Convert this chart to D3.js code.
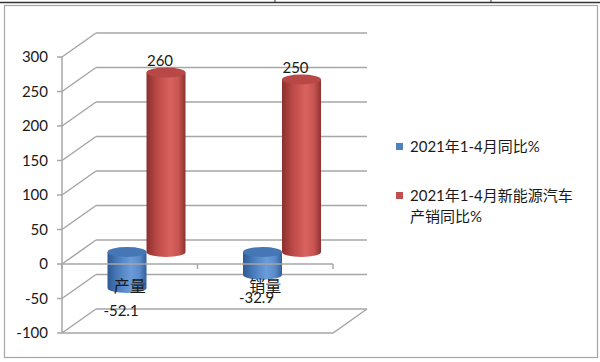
<!DOCTYPE html>
<html lang="zh">
<head>
    <meta charset="UTF-8">
    <script src="https://d3js.org/d3.v7.min.js"></script>
    <title>2021年1-4月同比</title>
    <style>
        body { margin: 0; background: #fff; }
        svg { display: block; }
        text { font-family: Lato, "Noto Sans CJK SC", sans-serif; fill: #1a1a1a; }
    </style>
</head>
<body>
<div id="container"></div>
<script>
    // data
    const categories = ["产量", "销量"]
    const seriesNames = ["2021年1-4月同比%", "2021年1-4月新能源汽车产销同比%"]
    const totalChange = [-52.1, -32.9]      // blue
    const nevChange = [260, 250]            // red
    const yTicks = [-100, -50, 0, 50, 100, 150, 200, 250, 300]
    const legendLines = [["2021年1-4月同比%"], ["2021年1-4月新能源汽车", "产销同比%"]]

    const W = 600, H = 362
    const depth = { dx: 34, dy: -24 }   // 3d offset of the back wall
    const colors = ["#4F81BD", "#C0504D"]

    const svg = d3.select("#container").append("svg")
        .attr("width", W).attr("height", H)

    const defs = svg.append("defs")
    const grads = [
        { id: "blueBody", stops: ["#2f5a93", "#4d7fc0", "#6b9bd8", "#5b8bc9", "#33609b"] },
        { id: "redBody", stops: ["#8c302e", "#bf4c49", "#d8625e", "#c85552", "#8e3230"] }
    ]
    grads.forEach(g => {
        const lg = defs.append("linearGradient").attr("id", g.id)
            .attr("x1", "0%").attr("x2", "100%").attr("y1", "0%").attr("y2", "0%")
        const offs = [0, 0.3, 0.6, 0.82, 1]
        g.stops.forEach((c, i) => lg.append("stop").attr("offset", offs[i]).attr("stop-color", c))
    })

    const y = d3.scaleLinear().domain([-100, 300]).range([333, 57])
    const x = d3.scaleBand().domain(categories).range([62, 333])
    const inner = d3.scaleBand().domain([0, 1]).range([28.5, 106.5])

    const x0 = x.range()[0], x1 = x.range()[1]
    const grid = svg.append("g").attr("stroke", "#a6a6a6").attr("stroke-width", 1.5).attr("fill", "none")

    // side wall diagonals + back wall gridlines
    yTicks.forEach(t => {
        grid.append("line")
            .attr("x1", x0).attr("y1", y(t))
            .attr("x2", x0 + depth.dx).attr("y2", y(t) + depth.dy)
        grid.append("line")
            .attr("x1", x0 + depth.dx).attr("y1", y(t) + depth.dy)
            .attr("x2", x1 + depth.dx).attr("y2", y(t) + depth.dy)
    })
    // floor
    grid.append("path")
        .attr("d", `M${x0},${y(-100)}L${x1},${y(-100)}L${x1 + depth.dx},${y(-100) + depth.dy}`)

    // value axis
    grid.append("line").attr("x1", x0).attr("x2", x0).attr("y1", y(300)).attr("y2", y(-100))
    yTicks.forEach(t => {
        grid.append("line").attr("x1", x0 - 5).attr("x2", x0).attr("y1", y(t)).attr("y2", y(t))
    })
    svg.append("g").selectAll("text").data(yTicks).join("text")
        .attr("x", 48).attr("y", d => y(d) + 5)
        .attr("text-anchor", "end").attr("font-size", 15)
        .text(d => d)

    // cylinders
    const zeroY = y(0) + depth.dy / 2
    const bw = inner.bandwidth(), ry = 5
    const bars = []
    categories.forEach((c, i) => {
        [totalChange[i], nevChange[i]].forEach((v, s) => {
            const cx = x(c) + depth.dx / 2 + inner(s) + bw / 2
            const yv = zeroY + (y(v) - y(0))
            bars.push({ c, s, v, cx, top: Math.min(zeroY, yv), bot: Math.max(zeroY, yv) })
        })
    })
    const rx = bw / 2
    const barG = svg.append("g")
    bars.forEach(b => {
        barG.append("path")
            .attr("d", `M${b.cx - rx},${b.top}L${b.cx - rx},${b.bot}A${rx},${ry} 0 0 0 ${b.cx + rx},${b.bot}L${b.cx + rx},${b.top}Z`)
            .attr("fill", `url(#${b.s === 0 ? "blueBody" : "redBody"})`)
        barG.append("ellipse")
            .attr("cx", b.cx).attr("cy", b.top).attr("rx", rx).attr("ry", ry)
            .attr("fill", b.s === 0 ? "#4576b5" : "#b84845")
    })

    // category axis (front, at zero)
    const catAxis = svg.append("g").attr("stroke", "#a6a6a6").attr("stroke-width", 1.5)
    catAxis.append("line").attr("x1", x0).attr("x2", x1).attr("y1", y(0)).attr("y2", y(0))
    ;[x0, x(categories[1]), x1].forEach(px => {
        catAxis.append("line").attr("x1", px).attr("x2", px).attr("y1", y(0)).attr("y2", y(0) + 5)
    })
    svg.append("g").selectAll("text").data(categories).join("text")
        .attr("x", d => x(d) + x.bandwidth() / 2).attr("y", y(0) + 28)
        .attr("text-anchor", "middle").attr("font-size", 16).attr("fill", "#333")
        .text(d => d)

    // data labels
    svg.append("g").selectAll("text").data(bars).join("text")
        .attr("x", b => b.cx - 6)
        .attr("y", b => b.v >= 0 ? b.top - 7 : b.bot + 28)
        .attr("text-anchor", "middle").attr("font-size", 15)
        .text(b => b.v)

    // legend
    const legend = svg.append("g")
    legendLines.forEach((lines, i) => {
        const ly = 152 + i * 49
        legend.append("rect").attr("x", 396).attr("y", ly - 9).attr("width", 7).attr("height", 7)
            .attr("fill", colors[i])
        lines.forEach((t, j) => {
            legend.append("text").attr("x", 410).attr("y", ly + j * 21)
                .attr("font-size", 15).text(t)
        })
    })

    // frame
    svg.append("rect").attr("x", 4.5).attr("y", 5.5).attr("width", 593).attr("height", 352)
        .attr("fill", "none").attr("stroke", "#a6a6a6").attr("stroke-width", 1.2)
    svg.append("line").attr("x1", 0).attr("x2", W).attr("y1", 2.5).attr("y2", 2.5)
        .attr("stroke", "#333").attr("stroke-width", 1.5)
    ;[275, 491].forEach(px => {
        svg.append("line").attr("x1", px).attr("x2", px).attr("y1", 0).attr("y2", 3)
            .attr("stroke", "#333").attr("stroke-width", 1)
    })
</script>
</body>
</html>
